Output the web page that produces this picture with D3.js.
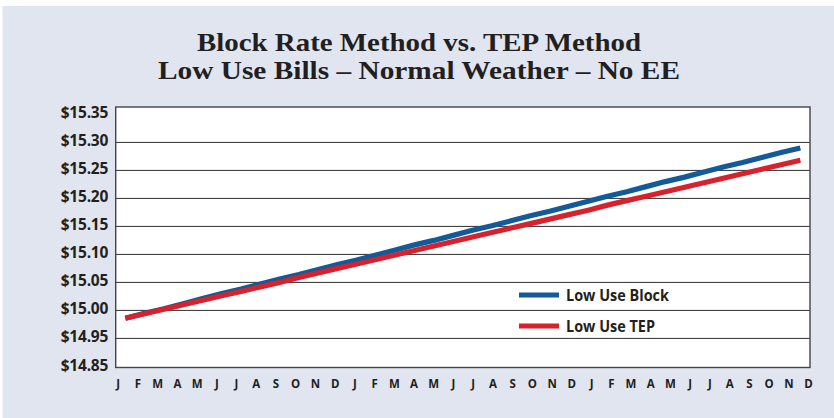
<!DOCTYPE html>
<html>
<head>
<meta charset="utf-8">
<script src="https://cdn.jsdelivr.net/npm/d3@7"></script>
<style>
  html, body { margin: 0; padding: 0; background: #fff; }
  svg { display: block; }
</style>
</head>
<body>
<svg id="chart" width="834" height="418"></svg>
<script>
// Monthly bills over three years (J..D repeated)
const months = ["J","F","M","A","M","J","J","A","S","O","N","D",
                "J","F","M","A","M","J","J","A","S","O","N","D",
                "J","F","M","A","M","J","J","A","S","O","N","D"];

const lowUseBlock = [14.986, 14.995, 15.003, 15.012, 15.021, 15.030, 15.038, 15.047, 15.056, 15.064, 15.073, 15.082,
                     15.090, 15.099, 15.108, 15.117, 15.125, 15.134, 15.143, 15.151, 15.160, 15.169, 15.177, 15.186,
                     15.195, 15.204, 15.212, 15.221, 15.230, 15.238, 15.247, 15.256, 15.264, 15.273, 15.282, 15.290];

const lowUseTEP   = [14.986, 14.994, 15.002, 15.010, 15.018, 15.026, 15.034, 15.042, 15.050, 15.059, 15.067, 15.075,
                     15.083, 15.091, 15.099, 15.107, 15.115, 15.123, 15.131, 15.139, 15.147, 15.155, 15.163, 15.171,
                     15.179, 15.188, 15.196, 15.204, 15.212, 15.220, 15.228, 15.236, 15.244, 15.252, 15.260, 15.268];

// Value axis: the bottom step is compressed (14.85 sits right under 14.95)
const yTickValues = [14.85, 14.95, 15.00, 15.05, 15.10, 15.15, 15.20, 15.25, 15.30, 15.35];
const yTickLabels = ["$14.85", "$14.95", "$15.00", "$15.05", "$15.10", "$15.15", "$15.20", "$15.25", "$15.30", "$15.35"];
const gridValues  = [14.95, 15.00, 15.05, 15.10, 15.15, 15.20, 15.25, 15.30];

const seriesNames  = ["Low Use Block", "Low Use TEP"];
const seriesColors = ["#135a98", "#d7222d"];
const titleLines = ["Block Rate Method vs. TEP Method", "Low Use Bills \u2013 Normal Weather \u2013 No EE"];

const svg = d3.select("#chart");
const W = 834, H = 418;
const plot = { left: 115.7, right: 810, top: 107, bottom: 367.5 };
const sans = "'Open Sans', 'Noto Sans', sans-serif";
const ink = "#231f20";

// panel background
svg.append("rect").attr("x", 2.5).attr("y", 6).attr("width", W - 2.5).attr("height", H - 6)
  .attr("fill", "#e0e5f0");

// title
const titleWidths = [444, 522];
titleLines.forEach((t, i) => {
  svg.append("text")
    .attr("x", 419).attr("y", 50.5 + i * 28.3)
    .attr("text-anchor", "middle")
    .attr("font-family", "'Liberation Serif', 'DejaVu Serif', serif")
    .attr("font-weight", "bold")
    .attr("font-size", 26)
    .attr("fill", ink)
    .attr("textLength", titleWidths[i])
    .attr("lengthAdjust", "spacingAndGlyphs")
    .text(t);
});

// scales
const y = d3.scaleLinear()
  .domain([14.85, 14.95, 15.35])
  .range([plot.bottom, 338.4, 114.4]);

const xLabel = d3.scalePoint().domain(d3.range(months.length))
  .range([plot.left, plot.right]).padding(0.1);
const xLine = d3.scalePoint().domain(d3.range(months.length))
  .range([plot.left, plot.right]).padding(0.5);

// plot area
svg.append("rect")
  .attr("x", plot.left).attr("y", plot.top)
  .attr("width", plot.right - plot.left).attr("height", plot.bottom - plot.top)
  .attr("fill", "#fff");

// horizontal grid
svg.append("g")
  .selectAll("line").data(gridValues).join("line")
  .attr("x1", plot.left).attr("x2", plot.right)
  .attr("y1", d => y(d)).attr("y2", d => y(d))
  .attr("stroke", "#2e2e2e").attr("stroke-width", 1);

// frame
svg.append("rect")
  .attr("x", plot.left).attr("y", plot.top)
  .attr("width", plot.right - plot.left).attr("height", plot.bottom - plot.top)
  .attr("fill", "none").attr("stroke", "#444").attr("stroke-width", 1.4);

// y axis labels
const yAxis = d3.axisLeft(y).tickValues(yTickValues)
  .tickFormat((d, i) => yTickLabels[i]).tickSize(0).tickPadding(7.5);
const yG = svg.append("g").attr("transform", `translate(${plot.left},0)`).call(yAxis);
yG.select(".domain").remove();
yG.selectAll("text")
  .attr("font-family", sans)
  .attr("font-weight", "bold").attr("font-size", 15.5)
  .attr("letter-spacing", -0.2)
  .attr("fill", ink).attr("dy", "0.2em");

// x axis labels
const xAxis = d3.axisBottom(xLabel).tickFormat(i => months[i]).tickSize(0).tickPadding(0);
const xG = svg.append("g").attr("transform", `translate(0,${plot.bottom})`).call(xAxis);
xG.select(".domain").remove();
xG.selectAll("text")
  .attr("y", 16.5).attr("dy", "0.36em")
  .attr("font-family", sans)
  .attr("font-weight", "bold").attr("font-size", 11.5)
  .attr("fill", ink);

// series lines
const line = d3.line().x((d, i) => xLine(i)).y(d => y(d));
[lowUseBlock, lowUseTEP].forEach((vals, k) => {
  svg.append("path").datum(vals)
    .attr("d", line)
    .attr("fill", "none")
    .attr("stroke", seriesColors[k])
    .attr("stroke-width", 5.2);
});

// legend
const legendY = [295, 326];
const legendWidths = [103, 89];
seriesNames.forEach((name, k) => {
  svg.append("line")
    .attr("x1", 519).attr("x2", 559)
    .attr("y1", legendY[k]).attr("y2", legendY[k])
    .attr("stroke", seriesColors[k]).attr("stroke-width", 5);
  svg.append("text")
    .attr("x", 566).attr("y", legendY[k]).attr("dy", "0.36em")
    .attr("font-family", sans)
    .attr("font-weight", "bold").attr("font-size", 16.5)
    .attr("textLength", legendWidths[k])
    .attr("lengthAdjust", "spacingAndGlyphs")
    .attr("fill", ink)
    .text(name);
});
</script>
</body>
</html>
